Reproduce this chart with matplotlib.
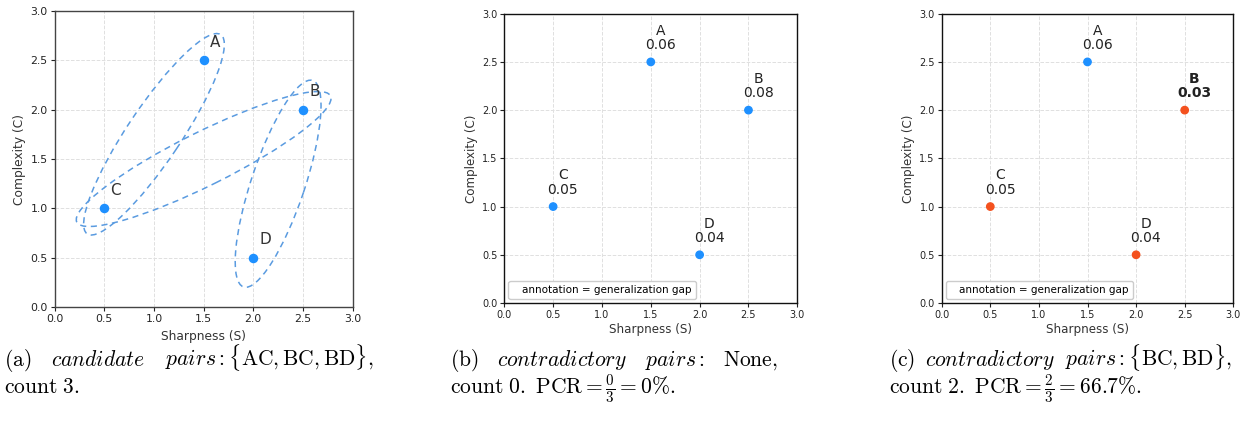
import numpy as np
import matplotlib
matplotlib.use("Agg")
import matplotlib.pyplot as plt
from matplotlib.patches import Ellipse
from matplotlib.lines import Line2D

plt.rcParams['mathtext.fontset'] = 'cm'

# ---- data ----
names = ['A', 'B', 'C', 'D']
sharpness = [1.5, 2.5, 0.5, 2.0]
complexity = [2.5, 2.0, 1.0, 0.5]
gap_b = ['0.06', '0.08', '0.05', '0.04']
gap_c = ['0.06', '0.03', '0.05', '0.04']
candidate_pairs = [('A', 'C'), ('B', 'C'), ('B', 'D')]
contradictory_c = ['B', 'C', 'D']
bold_c = ['B']
ticks = [0.0, 0.5, 1.0, 1.5, 2.0, 2.5, 3.0]

BLUE = '#1E90FF'
RED = '#F4511E'
ELL = '#5A9BE0'

fig = plt.figure(figsize=(12.51, 4.23), dpi=100)
W, H = 1251, 423

def add_ax(l, r, t, b):
    return fig.add_axes([l / W, 1 - b / H, (r - l) / W, (b - t) / H])

def style(ax, tick_fs, lab_fs, spine_col, xpad):
    ax.set_xlim(0, 3)
    ax.set_ylim(0, 3)
    ax.set_xticks(ticks)
    ax.set_yticks(ticks)
    ax.grid(True, linestyle='--', color='#e0e0e0', linewidth=0.7)
    ax.set_axisbelow(True)
    ax.tick_params(labelsize=tick_fs, length=3, width=0.8, colors='#222222', pad=2)
    for s in ax.spines.values():
        s.set_color(spine_col)
        s.set_linewidth(1.0)
    ax.set_xlabel('Sharpness (S)', fontsize=lab_fs, color='#333333', labelpad=xpad)
    ax.set_ylabel('Complexity (C)', fontsize=lab_fs, color='#333333', labelpad=3)

# ---- panel (a) ----
axa = add_ax(54.7, 352.6, 10.7, 307.3)
style(axa, 7.8, 8.8, '#444444', 4)
axa.scatter(sharpness, complexity, s=34, color=BLUE, zorder=3)
for n, x, y in zip(names, sharpness, complexity):
    axa.annotate(n, (x, y), xytext=(4.5, 7.5), textcoords='offset points',
                 ha='left', va='bottom', fontsize=11, color='#333333')
idx = {n: i for i, n in enumerate(names)}
for p, q in candidate_pairs:
    x1, y1 = sharpness[idx[p]], complexity[idx[p]]
    x2, y2 = sharpness[idx[q]], complexity[idx[q]]
    cx, cy = (x1 + x2) / 2, (y1 + y2) / 2
    d = np.hypot(x2 - x1, y2 - y1)
    ang = np.degrees(np.arctan2(y1 - y2, x1 - x2))
    e = Ellipse((cx, cy), width=d + 0.62, height=0.54, angle=ang,
                fill=False, edgecolor=ELL, linestyle=(0, (4, 3)), linewidth=1.1, zorder=2)
    axa.add_patch(e)

# ---- panels (b), (c) ----
def panel(ax, gaps, colors, bolds):
    style(ax, 7.0, 8.6, '#111111', 2)
    ax.scatter(sharpness, complexity, s=28, color=colors, zorder=3)
    for n, x, y, g in zip(names, sharpness, complexity, gaps):
        ax.annotate(n + '\n' + g, (x, y), xytext=(7, 7), textcoords='offset points',
                    ha='center', va='bottom', fontsize=10, color='#222222',
                    fontweight='bold' if n in bolds else 'normal', linespacing=1.05)
    h = Line2D([], [], linestyle='none')
    ax.legend([h], ['annotation = generalization gap'], loc='lower left',
              fontsize=7.5, handlelength=0.5, handletextpad=0.4, borderpad=0.4,
              borderaxespad=0.4, framealpha=1, edgecolor='#cccccc', fancybox=True)

axb = add_ax(504.3, 797.3, 13.7, 303)
panel(axb, gap_b, [BLUE] * 4, [])

axc = add_ax(941.7, 1233.3, 13.7, 303)
colc = [RED if n in contradictory_c else BLUE for n in names]
panel(axc, gap_c, colc, bold_c)

# ---- captions (first line justified like LaTeX) ----
cap_fs = 15.5
y1 = 1 - 366 / H
y2 = 1 - 393 / H
renderer = fig.canvas.get_renderer()

def justified(x0, x1, words):
    texts = [fig.text(0, y1, w, fontsize=cap_fs, ha='left', va='baseline') for w in words]
    widths = [t.get_window_extent(renderer).width for t in texts]
    gap = (x1 - x0 - sum(widths)) / (len(words) - 1)
    x = x0
    for t, w in zip(texts, widths):
        t.set_x(x / W)
        x += w + gap

justified(4, 374, [r'$\mathrm{(a)}$', r'$\mathit{candidate}$',
                   r'$\mathit{pairs}\mathrm{:}\{\mathrm{AC,BC,BD}\}\mathrm{,}$'])
fig.text(4 / W, y2, r'$\mathrm{count\ 3.}$', fontsize=cap_fs, ha='left', va='baseline')

justified(450, 778, [r'$\mathrm{(b)}$', r'$\mathit{contradictory}$',
                     r'$\mathit{pairs}\mathrm{:}$', r'$\mathrm{None,}$'])
fig.text(450 / W, y2, r'$\mathrm{count\ 0.\ PCR} = \frac{0}{3} = 0\%\mathrm{.}$',
         fontsize=cap_fs, ha='left', va='baseline')

justified(889, 1232, [r'$\mathrm{(c)}$', r'$\mathit{contradictory}$',
                      r'$\mathit{pairs}\mathrm{:}\{\mathrm{BC,BD}\}\mathrm{,}$'])
fig.text(889 / W, y2, r'$\mathrm{count\ 2.\ PCR} = \frac{2}{3} = 66.7\%\mathrm{.}$',
         fontsize=cap_fs, ha='left', va='baseline')

fig.savefig('out.png', dpi=100)
